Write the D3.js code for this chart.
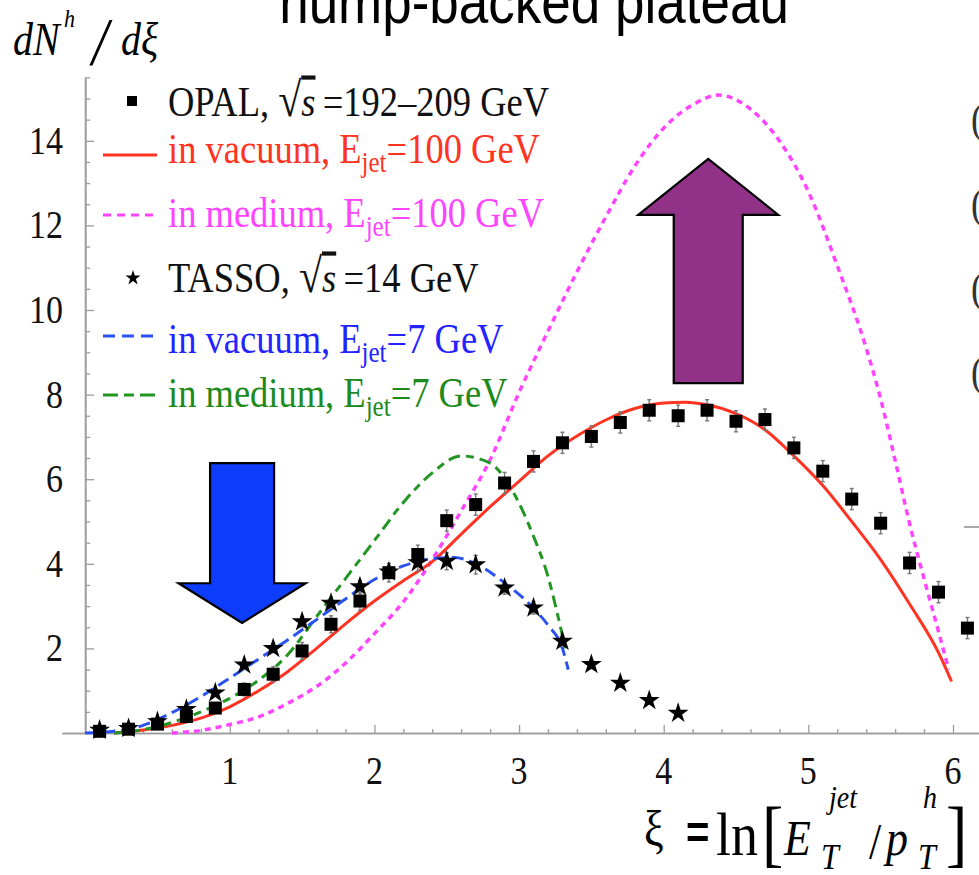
<!DOCTYPE html>
<html>
<head>
<meta charset="utf-8">
<script src="https://cdn.jsdelivr.net/npm/d3@7"></script>
<style>
  body { margin: 0; background: #fff; }
  svg { display: block; }
</style>
</head>
<body>
<svg id="chart" width="979" height="875"></svg>
<script>
// ---------------- data ----------------
// OPAL, sqrt(s) = 192-209 GeV
const opalXi  = [0.1,0.3,0.5,0.7,0.9,1.1,1.3,1.5,1.7,1.9,2.1,2.3,2.5,2.7,2.9,3.1,3.3,3.5,3.7,3.9,4.1,4.3,4.5,4.7,4.9,5.1,5.3,5.5,5.7,5.9,6.1];
const opalVal = [0.04,0.09,0.21,0.39,0.59,1.03,1.39,1.94,2.57,3.12,3.79,4.22,5.02,5.40,5.91,6.42,6.86,7.01,7.34,7.63,7.50,7.63,7.37,7.41,6.74,6.19,5.53,4.96,4.02,3.33,2.48];
const opalErr = [0.05,0.05,0.08,0.1,0.12,0.15,0.18,0.2,0.2,0.22,0.22,0.22,0.25,0.25,0.25,0.25,0.25,0.25,0.25,0.25,0.25,0.25,0.25,0.25,0.25,0.25,0.25,0.25,0.25,0.25,0.25];

// TASSO, sqrt(s) = 14 GeV
const tassoXi  = [0.1,0.3,0.5,0.7,0.9,1.1,1.3,1.5,1.7,1.9,2.1,2.3,2.5,2.7,2.9,3.1,3.3,3.5,3.7,3.9,4.1];
const tassoVal = [0.07,0.11,0.27,0.56,0.95,1.61,2.00,2.63,3.07,3.46,3.81,4.03,4.06,3.98,3.43,2.96,2.17,1.62,1.18,0.77,0.47];
const tassoErr = [0.03,0.04,0.05,0.06,0.08,0.1,0.1,0.12,0.12,0.15,0.15,0.2,0.2,0.22,0.15,0.15,0.12,0.1,0.1,0.08,0.08];

// in vacuum, E_jet = 100 GeV
const vac100Xi  = [0.2,0.4,0.6,0.8,1.0,1.2,1.4,1.6,1.8,2.0,2.2,2.4,2.6,2.8,3.0,3.2,3.4,3.6,3.8,4.0,4.15,4.3,4.5,4.7,4.9,5.1,5.3,5.5,5.7,5.9,5.99];
const vac100Val = [0.0,0.07,0.18,0.35,0.62,1.0,1.45,2.0,2.58,3.12,3.6,4.05,4.7,5.35,5.95,6.55,7.02,7.4,7.67,7.8,7.82,7.76,7.55,7.17,6.55,5.85,5.0,4.1,3.05,1.9,1.22];

// in medium, E_jet = 100 GeV
const med100Xi  = [0.6,0.8,1.0,1.2,1.4,1.6,1.8,2.0,2.2,2.4,2.6,2.8,3.0,3.2,3.4,3.6,3.8,4.0,4.2,4.38,4.6,4.8,5.0,5.2,5.4,5.5,5.6,5.7,5.8,5.9,5.97];
const med100Val = [0.0,0.06,0.2,0.38,0.7,1.1,1.65,2.35,3.1,4.1,5.25,6.46,8.05,9.5,10.9,12.2,13.4,14.3,14.85,15.08,14.75,14.0,12.8,11.05,9.1,7.9,6.45,4.95,3.65,2.4,1.5];

// in vacuum, E_jet = 7 GeV
const vac7Xi  = [0.0,0.2,0.4,0.6,0.8,1.0,1.2,1.4,1.6,1.8,2.0,2.2,2.4,2.55,2.7,2.9,3.1,3.2,3.3,3.34];
const vac7Val = [0.0,0.04,0.18,0.48,0.86,1.3,1.75,2.2,2.68,3.17,3.63,3.95,4.12,4.15,4.0,3.55,2.95,2.55,2.0,1.5];

// in medium, E_jet = 7 GeV
const med7Xi  = [0.2,0.4,0.6,0.8,1.0,1.2,1.4,1.6,1.8,2.0,2.2,2.4,2.6,2.8,2.95,3.1,3.2,3.28,3.32];
const med7Val = [0.0,0.08,0.25,0.5,0.82,1.25,1.85,2.75,3.65,4.55,5.45,6.15,6.55,6.38,5.75,4.65,3.7,2.6,2.0];

const xTickValues = [1, 2, 3, 4, 5, 6];
const yTickValues = [2, 4, 6, 8, 10, 12, 14];

const legendTexts = [
  [["OPAL, "], ["√", "root"], ["s", "itov"], ["\u2009=192–209 GeV"]],
  [["in vacuum, E"], ["jet", "sub"], ["=100 GeV"]],
  [["in medium, E"], ["jet", "sub"], ["=100 GeV"]],
  [["TASSO, "], ["√", "root"], ["s", "itov"], ["\u2009=14 GeV"]],
  [["in vacuum, E"], ["jet", "sub"], ["=7 GeV"]],
  [["in medium, E"], ["jet", "sub"], ["=7 GeV"]]
];

// ---------------- setup ----------------
const svg = d3.select("#chart");
const SY = 1.15;   // glyphs are slightly tall and narrow
const serif = "'Liberation Serif','Times New Roman',Times,serif";
const sans = "'Liberation Sans',Arial,Helvetica,sans-serif";

const col = {
  red: "#ff3322", magenta: "#ff44ff", blue: "#2a52f0", green: "#229622",
  blueText: "#2323ff", greenText: "#1c8a1c", axis: "#9c9c9c"
};

const x = d3.scaleLinear().domain([-0.16, 6.18]).range([62, 979]);
const y = d3.scaleLinear().domain([0, 15.5]).range([733, 77.35]);

function stretched(parent, px, py, size, family) {
  return parent.append("text")
    .attr("transform", `translate(${px},${py}) scale(1,${SY})`)
    .attr("font-family", family || serif)
    .attr("font-size", size);
}

// ---------------- title (runs off the top edge) ----------------
stretched(svg, 534, 23, 53, sans).attr("text-anchor", "middle").attr("fill", "#000")
  .text("hump-backed plateau");

// ---------------- axes ----------------
const axes = svg.append("g");
const isMajorX = v => Math.abs(v - Math.round(v)) < 1e-6;
const xMinorVals = d3.range(1, 31).map(i => i * 0.2).filter(v => !isMajorX(v));
const yMinorVals = d3.range(1, 32).map(i => i * 0.5).filter(v => v % 2 !== 0);

function styleAxis(g) {
  g.selectAll("path.domain").attr("stroke", col.axis).attr("stroke-width", 1.6);
  g.selectAll(".tick line").attr("stroke", col.axis).attr("stroke-width", 1.3);
  g.selectAll(".tick text").remove();
}

axes.append("g").attr("transform", `translate(0,${y(0)})`)
  .call(d3.axisBottom(x).tickValues(xMinorVals).tickSizeInner(-4).tickSizeOuter(0).tickFormat(""))
  .call(styleAxis);
axes.append("g").attr("transform", `translate(0,${y(0)})`)
  .call(d3.axisBottom(x).tickValues(xTickValues).tickSizeInner(-8).tickSizeOuter(0).tickFormat(""))
  .call(styleAxis);
axes.append("g").attr("transform", `translate(${x(0)},0)`)
  .call(d3.axisLeft(y).tickValues(yMinorVals).tickSizeInner(-5).tickSizeOuter(0).tickFormat(""))
  .call(styleAxis);
axes.append("g").attr("transform", `translate(${x(0)},0)`)
  .call(d3.axisLeft(y).tickValues(yTickValues).tickSizeInner(-9).tickSizeOuter(0).tickFormat(""))
  .call(styleAxis);

xTickValues.forEach(v => {
  stretched(axes, x(v), 784, 34).attr("text-anchor", "middle").attr("fill", "#111").text(v);
});
yTickValues.forEach(v => {
  stretched(axes, 63, y(v) + 13, 34).attr("text-anchor", "end").attr("fill", "#111").text(v);
});

// ---------------- axis titles ----------------
const yt = svg.append("g").attr("fill", "#000");
stretched(yt, 13, 55, 40).attr("font-style", "italic").text("dN");
stretched(yt, 64, 27, 22).attr("font-style", "italic").text("h");
stretched(yt, 92, 64, 58).attr("font-style", "italic").text("/");
stretched(yt, 121, 55, 40).attr("font-style", "italic").text("dξ");

const xt = svg.append("g").attr("fill", "#000");
stretched(xt, 644, 846, 44).text("ξ");
stretched(xt, 686, 848, 40, sans).attr("font-weight", "bold").text("=");
stretched(xt, 716, 855, 54).text("ln");
stretched(xt, 762, 858, 64).text("[");
stretched(xt, 784, 855, 44).attr("font-style", "italic").text("E");
stretched(xt, 829, 808, 28).attr("font-style", "italic").text("jet");
stretched(xt, 821, 869, 32).attr("font-style", "italic").text("T");
stretched(xt, 869, 858, 44).text("/");
stretched(xt, 886, 855, 44).attr("font-style", "italic").text("p");
stretched(xt, 923, 808, 28).attr("font-style", "italic").text("h");
stretched(xt, 918, 869, 32).attr("font-style", "italic").text("T");
stretched(xt, 946, 858, 64).text("]");

// ---------------- curves ----------------
const line = d3.line().x(d => x(d[0])).y(d => y(d[1])).curve(d3.curveMonotoneX);
const curves = svg.append("g").attr("fill", "none");
const zip = (a, b) => a.map((v, i) => [v, b[i]]);

curves.append("path").datum(zip(med100Xi, med100Val)).attr("d", line)
  .attr("stroke", col.magenta).attr("stroke-width", 3.5).attr("stroke-dasharray", "6,5");
curves.append("path").datum(zip(vac100Xi, vac100Val)).attr("d", line)
  .attr("stroke", col.red).attr("stroke-width", 3);
curves.append("path").datum(zip(med7Xi, med7Val)).attr("d", line)
  .attr("stroke", col.green).attr("stroke-width", 3).attr("stroke-dasharray", "12,6,8,6");
curves.append("path").datum(zip(vac7Xi, vac7Val)).attr("d", line)
  .attr("stroke", col.blue).attr("stroke-width", 3).attr("stroke-dasharray", "12,6");

// ---------------- data points ----------------
const pts = svg.append("g");
function errorBars(xs, vs, es) {
  const g = pts.append("g").attr("stroke", "#777").attr("stroke-width", 1.4);
  xs.forEach((xi, i) => {
    const px = x(xi), top = y(vs[i] + es[i]), bot = y(vs[i] - es[i]);
    g.append("line").attr("x1", px).attr("x2", px).attr("y1", top).attr("y2", bot);
    g.append("line").attr("x1", px - 2).attr("x2", px + 2).attr("y1", top).attr("y2", top);
    g.append("line").attr("x1", px - 2).attr("x2", px + 2).attr("y1", bot).attr("y2", bot);
  });
}
errorBars(opalXi, opalVal, opalErr);
errorBars(tassoXi, tassoVal, tassoErr);

const sq = 13;
pts.append("g").selectAll("rect").data(zip(opalXi, opalVal)).join("rect")
  .attr("x", d => x(d[0]) - sq / 2).attr("y", d => y(d[1]) - sq / 2)
  .attr("width", sq).attr("height", sq).attr("fill", "#000");

const star = d3.symbol().type(d3.symbolStar).size(135);
pts.append("g").selectAll("path").data(zip(tassoXi, tassoVal)).join("path")
  .attr("transform", d => `translate(${x(d[0])},${y(d[1])})`)
  .attr("d", star).attr("fill", "#000");

// ---------------- arrows ----------------
function arrow(cx, tipY, headY, endY, shaftHalf, headHalf, fill) {
  const p = [[cx - shaftHalf, endY], [cx - shaftHalf, headY], [cx - headHalf, headY], [cx, tipY],
             [cx + headHalf, headY], [cx + shaftHalf, headY], [cx + shaftHalf, endY]];
  svg.append("path").attr("d", "M" + p.map(q => q.join(",")).join("L") + "Z")
    .attr("fill", fill).attr("stroke", "#000").attr("stroke-width", 2.2).attr("stroke-linejoin", "miter");
}
// decrease at small xi, growth at large xi
arrow(x(1.085), y(2.6), y(3.54), y(6.38), 32, 63.5, "#0d3cfb");
arrow(x(4.308), y(13.57), y(12.25), y(8.27), 34.5, 70, "#913288");

// ---------------- legend ----------------
const legend = svg.append("g");
const rowBase = [116, 163, 227, 292, 353, 407];
const rowMark = [101, 155, 215, 278, 336, 395];
const rowColor = ["#111", col.red, col.magenta, "#111", col.blueText, col.greenText];
const textX = 168;

legendTexts.forEach((parts, i) => {
  const t = stretched(legend, textX, rowBase[i], 36.5).attr("fill", rowColor[i]);
  let shift = 0;
  parts.forEach(([s, kind]) => {
    const ts = t.append("tspan").text(s);
    if (shift) { ts.attr("dy", -shift); shift = 0; }
    if (kind === "sub") {
      ts.attr("font-size", 25).attr("dy", 8);
      shift = 8;
    } else if (kind === "root") {
      ts.attr("font-size", 42);
    } else if (kind === "itov") {
      ts.attr("font-style", "italic").style("text-decoration", "overline");
    }
  });
});

legend.append("rect").attr("x", 127).attr("y", rowMark[0] - 5).attr("width", 10).attr("height", 10).attr("fill", "#000");
legend.append("path").attr("transform", `translate(133,${rowMark[3]})`)
  .attr("d", d3.symbol().type(d3.symbolStar).size(70)).attr("fill", "#000");
legend.append("line").attr("x1", 103).attr("x2", 157).attr("y1", rowMark[1]).attr("y2", rowMark[1])
  .attr("stroke", col.red).attr("stroke-width", 3);
legend.append("line").attr("x1", 103).attr("x2", 154).attr("y1", rowMark[2]).attr("y2", rowMark[2])
  .attr("stroke", col.magenta).attr("stroke-width", 3).attr("stroke-dasharray", "8,6");
legend.append("line").attr("x1", 103).attr("x2", 153).attr("y1", rowMark[4]).attr("y2", rowMark[4])
  .attr("stroke", col.blue).attr("stroke-width", 3).attr("stroke-dasharray", "12,7");
legend.append("line").attr("x1", 103).attr("x2", 157).attr("y1", rowMark[5]).attr("y2", rowMark[5])
  .attr("stroke", col.green).attr("stroke-width", 3).attr("stroke-dasharray", "15,6,10,6");

// ---------------- neighbouring panel edge ----------------
const edge = svg.append("g").attr("fill", "#333");
[133, 218, 302, 386].forEach(b => stretched(edge, 971, b, 36).text("("));
svg.append("line").attr("x1", 964).attr("x2", 979).attr("y1", 527).attr("y2", 527)
  .attr("stroke", "#aaa").attr("stroke-width", 2);
</script>
</body>
</html>
